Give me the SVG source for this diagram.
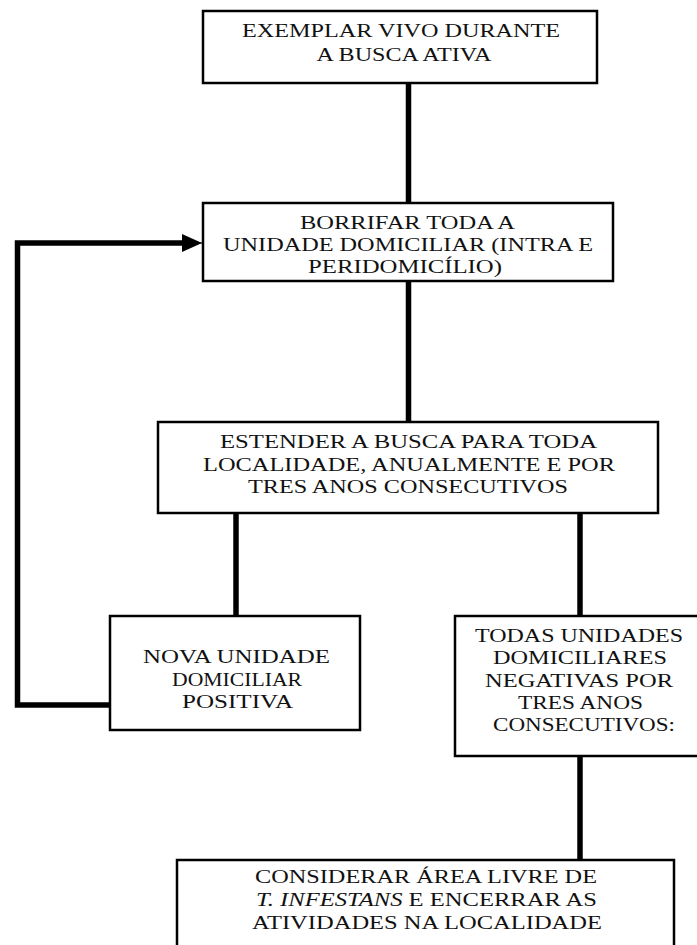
<svg xmlns="http://www.w3.org/2000/svg" width="697" height="945" viewBox="0 0 697 945">
<style>
.box{fill:#fff;stroke:#000;stroke-width:2.5}
.lbl{font-family:"Liberation Serif","Times New Roman",serif;font-size:19px;fill:#111;text-anchor:middle}
.con{fill:none;stroke:#000;stroke-width:5.5;stroke-linejoin:miter;stroke-linecap:square}
</style>
<defs>
<marker id="ah" markerUnits="userSpaceOnUse" markerWidth="22" markerHeight="18" refX="20" refY="9" orient="auto">
<path d="M0,0 L20,9 L0,18 Z" fill="#000"/>
</marker>
</defs>
<rect width="697" height="945" fill="#fff"/>
<g id="connectors">
<line class="con" x1="408.5" y1="83" x2="408.5" y2="203"/>
<line class="con" x1="408.5" y1="281" x2="408.5" y2="422"/>
<line class="con" x1="236" y1="513" x2="236" y2="616"/>
<line class="con" x1="580" y1="513" x2="580" y2="616"/>
<line class="con" x1="580" y1="756" x2="580" y2="860"/>
<path class="con" d="M110,705 L17.5,705 L17.5,243 L190,243" stroke-linecap="butt"/>
<line x1="185" y1="243" x2="202" y2="243" stroke="#000" stroke-width="1" marker-end="url(#ah)"/>
</g>
<g id="n1">
<rect class="box" x="203" y="11" width="394" height="72"/>
<text class="lbl" x="401" y="37" textLength="318" lengthAdjust="spacingAndGlyphs">EXEMPLAR VIVO DURANTE</text>
<text class="lbl" x="404" y="61" textLength="175" lengthAdjust="spacingAndGlyphs">A BUSCA ATIVA</text>
</g>
<g id="n2">
<rect class="box" x="203" y="203" width="410" height="78"/>
<text class="lbl" x="407.5" y="229" textLength="215" lengthAdjust="spacingAndGlyphs">BORRIFAR TODA A</text>
<text class="lbl" x="408" y="251" textLength="370" lengthAdjust="spacingAndGlyphs">UNIDADE DOMICILIAR (INTRA E</text>
<text class="lbl" x="405" y="273" textLength="194" lengthAdjust="spacingAndGlyphs">PERIDOMICÍLIO)</text>
</g>
<g id="n3">
<rect class="box" x="158" y="422" width="500" height="91"/>
<text class="lbl" x="408.5" y="448" textLength="377" lengthAdjust="spacingAndGlyphs">ESTENDER A BUSCA PARA TODA</text>
<text class="lbl" x="409" y="470.5" textLength="412" lengthAdjust="spacingAndGlyphs">LOCALIDADE, ANUALMENTE E POR</text>
<text class="lbl" x="408" y="493" textLength="320" lengthAdjust="spacingAndGlyphs">TRES ANOS CONSECUTIVOS</text>
</g>
<g id="n4">
<rect class="box" x="110" y="616" width="250" height="114"/>
<text class="lbl" x="236.5" y="663" textLength="187" lengthAdjust="spacingAndGlyphs">NOVA UNIDADE</text>
<text class="lbl" x="237" y="685.5" textLength="130" lengthAdjust="spacingAndGlyphs">DOMICILIAR</text>
<text class="lbl" x="237.5" y="708" textLength="111" lengthAdjust="spacingAndGlyphs">POSITIVA</text>
</g>
<g id="n5">
<rect class="box" x="455" y="616" width="260" height="140"/>
<text class="lbl" x="579" y="642" textLength="208" lengthAdjust="spacingAndGlyphs">TODAS UNIDADES</text>
<text class="lbl" x="580" y="664.25" textLength="174" lengthAdjust="spacingAndGlyphs">DOMICILIARES</text>
<text class="lbl" x="579" y="686.5" textLength="188" lengthAdjust="spacingAndGlyphs">NEGATIVAS POR</text>
<text class="lbl" x="580.5" y="708.75" textLength="125" lengthAdjust="spacingAndGlyphs">TRES ANOS</text>
<text class="lbl" x="584" y="731" textLength="182" lengthAdjust="spacingAndGlyphs">CONSECUTIVOS:</text>
</g>
<g id="n6">
<rect class="box" x="177" y="860" width="497" height="100"/>
<text class="lbl" x="426" y="883" textLength="342" lengthAdjust="spacingAndGlyphs">CONSIDERAR ÁREA LIVRE DE</text>
<text class="lbl" x="426.5" y="906" textLength="341" lengthAdjust="spacingAndGlyphs"><tspan font-style="italic">T. INFESTANS</tspan> E ENCERRAR AS</text>
<text class="lbl" x="427" y="929" textLength="350" lengthAdjust="spacingAndGlyphs">ATIVIDADES NA LOCALIDADE</text>
</g>
</svg>
